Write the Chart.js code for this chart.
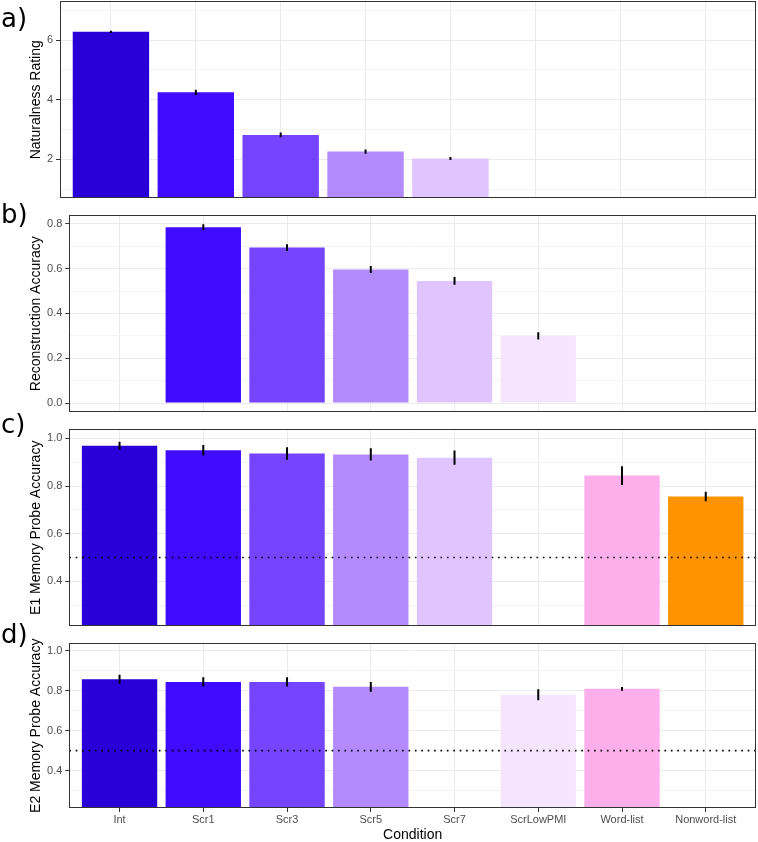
<!DOCTYPE html>
<html><head><meta charset="utf-8">
<script src="https://cdn.jsdelivr.net/npm/chart.js@4/dist/chart.umd.min.js"></script>
<style>
html,body{margin:0;padding:0;background:#fff;overflow:hidden;width:758px;height:842px;position:relative;}
.panel{position:absolute;left:0;width:758px;}
.tag{position:absolute;left:1px;font-family:'DejaVu Sans',sans-serif;font-size:26px;line-height:26px;color:#000;z-index:2;}
</style></head><body>
<div class="tag" style="top:5px">a)</div>
<div class="tag" style="top:201px">b)</div>
<div class="tag" style="top:411px">c)</div>
<div class="tag" style="top:621px">d)</div>
<div class="panel" style="top:0px;height:204px"><canvas id="cA"></canvas></div>
<div class="panel" style="top:205px;height:213px"><canvas id="cB"></canvas></div>
<div class="panel" style="top:419px;height:213px"><canvas id="cC"></canvas></div>
<div class="panel" style="top:633px;height:209px"><canvas id="cD"></canvas></div>
<script>
// ---- data ----
const categories = ['Int', 'Scr1', 'Scr3', 'Scr5', 'Scr7', 'ScrLowPMI', 'Word-list', 'Nonword-list'];
const barColors = ['#2900D8', '#3F0CFF', '#7544FF', '#B48BFF', '#E0C4FF', '#F5E5FC', '#FCAFEB', '#FF9400'];

const naturalness      = [6.28, 4.25, 2.82, 2.26, 2.03, null, null, null];
const naturalnessErr   = [0.04, 0.09, 0.08, 0.07, 0.05, null, null, null];
const reconstruction    = [null, 0.785, 0.694, 0.596, 0.545, 0.300, null, null];
const reconstructionErr = [null, 0.013, 0.015, 0.016, 0.017, 0.016, null, null];
const e1Accuracy = [0.969, 0.950, 0.937, 0.933, 0.919, null, 0.844, 0.756];
const e1Err      = [0.017, 0.022, 0.026, 0.026, 0.030, null, 0.039, 0.020];
const e2Accuracy = [0.858, 0.845, 0.845, 0.820, null, 0.780, 0.810, null];
const e2Err      = [0.0225, 0.0235, 0.023, 0.025, null, 0.0275, 0.009, null];
const chanceLevel = 0.5;

const majorTicksA = [2, 4, 6];             const minorTicksA = [1, 3, 5, 7];
const majorTicksB = [0, 0.2, 0.4, 0.6, 0.8]; const minorTicksB = [0.1, 0.3, 0.5, 0.7];
const majorTicksCD = [0.4, 0.6, 0.8, 1.0];  const minorTicksCD = [0.3, 0.5, 0.7, 0.9];
const rangeA = [0.7, 7.3];
const rangeB = [-0.04, 0.837];
const rangeCD = [0.2125, 1.0375];

// ---- drawing ----
Chart.defaults.font.family = "'Liberation Sans', Arial, sans-serif";
const TICK_FONT = {size: 11};
const TICK_COLOR = '#4D4D4D';

function makeDecor(values, errors, refLine) {
  return {
    id: 'decor',
    afterDatasetsDraw(chart) {
      const {ctx, chartArea: a, scales: {x, y}} = chart;
      ctx.save();
      ctx.beginPath(); ctx.rect(a.left, a.top, a.right - a.left, a.bottom - a.top); ctx.clip();
      if (refLine != null) {
        const py = y.getPixelForValue(refLine);
        ctx.strokeStyle = '#000'; ctx.lineWidth = 1.6; ctx.setLineDash([1.6, 4.8]);
        ctx.beginPath(); ctx.moveTo(a.left, py); ctx.lineTo(a.right, py); ctx.stroke();
        ctx.setLineDash([]);
      }
      ctx.strokeStyle = '#000'; ctx.lineWidth = 2;
      values.forEach((v, i) => {
        if (v == null || errors[i] == null) return;
        const px = x.getPixelForValue(i);
        ctx.beginPath();
        ctx.moveTo(px, y.getPixelForValue(v - errors[i]));
        ctx.lineTo(px, y.getPixelForValue(v + errors[i]));
        ctx.stroke();
      });
      ctx.restore();
      ctx.save();
      ctx.strokeStyle = '#333333'; ctx.lineWidth = 1;
      const l = Math.floor(a.left) + 0.5, t = Math.floor(a.top) + 0.5;
      const r = Math.ceil(a.right) - 0.5, b = Math.ceil(a.bottom) - 0.5;
      ctx.strokeRect(l, t, r - l, b - t);
      ctx.restore();
    }
  };
}

function makePanel(id, p) {
  const majors = p.major, minors = p.minor;
  new Chart(document.getElementById(id), {
    type: 'bar',
    data: {
      datasets: [{
        data: p.values.map((v, i) => ({x: i, y: v})),
        backgroundColor: barColors,
        borderWidth: 0,
        barPercentage: 0.9,
        categoryPercentage: 1.0
      }]
    },
    options: {
      responsive: true,
      maintainAspectRatio: false,
      animation: false,
      events: [],
      layout: {padding: {top: p.padTop, left: 24, right: 2, bottom: p.padBottom}},
      plugins: {legend: {display: false}, tooltip: {enabled: false}},
      scales: {
        x: {
          type: 'linear', min: -0.6, max: 7.6, offset: false,
          afterBuildTicks: (axis) => { axis.ticks = categories.map((c, i) => ({value: i})); },
          afterFit: (s) => { s.height = p.xHeight; s.paddingLeft = 0; s.paddingRight = 0; },
          ticks: {display: p.showX, autoSkip: false, maxRotation: 0, padding: 1,
                  font: TICK_FONT, color: TICK_COLOR,
                  callback: (v) => categories[v]},
          grid: {offset: false, color: '#EBEBEB', lineWidth: 1, drawTicks: p.showX, tickLength: 4, tickColor: '#333333'},
          border: {display: false},
          title: {display: p.showX, text: 'Condition', color: '#000',
                  font: {size: 14, lineHeight: 1.0}, padding: {top: 0, bottom: 0}}
        },
        y: {
          type: 'linear', min: p.range[0], max: p.range[1],
          afterBuildTicks: (axis) => {
            const t = majors.map(v => ({value: v, minor: false}))
              .concat(minors.map(v => ({value: v, minor: true})));
            t.sort((a, b) => a.value - b.value);
            axis.ticks = t;
          },
          afterFit: (s) => { s.width = p.yWidth; s.paddingTop = 0; s.paddingBottom = 0; },
          ticks: {autoSkip: false, padding: 3, font: TICK_FONT, color: TICK_COLOR,
                  callback: (v, i, t) => t[i].minor ? '' : p.fmt(v)},
          grid: {
            color: (c) => (c.tick && c.tick.minor) ? '#F4F4F4' : '#EBEBEB',
            lineWidth: 1, drawTicks: true, tickLength: 4,
            tickColor: (c) => (c.tick && c.tick.minor) ? 'rgba(0,0,0,0)' : '#333333'
          },
          border: {display: false},
          title: {display: true, text: p.title, color: '#000', font: {size: 14},
                  padding: {top: 4, bottom: 4}}
        }
      }
    },
    plugins: [makeDecor(p.values, p.errors, p.refLine)]
  });
}

const fmtInt = (v) => String(Math.round(v));
const fmt1 = (v) => v.toFixed(1);

makePanel('cA', {values: naturalness, errors: naturalnessErr, refLine: null,
  major: majorTicksA, minor: minorTicksA, range: rangeA, fmt: fmtInt,
  title: 'Naturalness Rating', padTop: 1.5, padBottom: 6, yWidth: 36, xHeight: 0, showX: false});
makePanel('cB', {values: reconstruction, errors: reconstructionErr, refLine: null,
  major: majorTicksB, minor: minorTicksB, range: rangeB, fmt: fmt1,
  title: 'Reconstruction Accuracy', padTop: 10.5, padBottom: 6, yWidth: 45.3, xHeight: 0, showX: false});
makePanel('cC', {values: e1Accuracy, errors: e1Err, refLine: chanceLevel,
  major: majorTicksCD, minor: minorTicksCD, range: rangeCD, fmt: fmt1,
  title: 'E1 Memory Probe Accuracy', padTop: 10.5, padBottom: 6, yWidth: 45.3, xHeight: 0, showX: false});
makePanel('cD', {values: e2Accuracy, errors: e2Err, refLine: chanceLevel,
  major: majorTicksCD, minor: minorTicksCD, range: rangeCD, fmt: fmt1,
  title: 'E2 Memory Probe Accuracy', padTop: 10.5, padBottom: 0, yWidth: 45.3, xHeight: 34, showX: true});
</script>
</body></html>
